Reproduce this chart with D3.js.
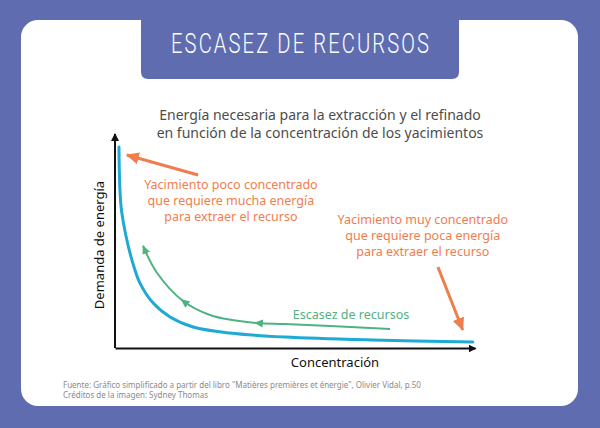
<!DOCTYPE html>
<html>
<head>
<meta charset="utf-8">
<script src="https://cdn.jsdelivr.net/npm/d3@7"></script>
<style>
	html, body { margin: 0; padding: 0; background: #5f6db0; }
	svg { display: block; }
</style>
</head>
<body>
<div id="chart"></div>
<script>
// curve of energy demand against ore concentration
const concentration = [1.1, 1.7, 3.3, 4.7, 6.9, 10.6, 15.3, 21.7, 31.9, 47.2, 71.7, 99.4];
const energyDemand = [95.7, 67.1, 51.4, 41.9, 31.0, 21.4, 14.8, 10.0, 7.1, 5.2, 3.8, 2.9];

// green "escasez" path, drawn from right to left
const scarcityConcentration = [76.4, 59.7, 47.2, 39.4, 32.5, 26.4, 18.9, 11.7, 7.8];
const scarcityDemand = [9.0, 10.5, 11.4, 11.9, 13.3, 15.7, 22.4, 35.7, 48.6];
const scarcityArrowAt = [3, 6];

// orange pointer arrows: [tailX, tailY, headX, headY] in data units
const pointerArrows = [
	[23.1, 82.4, 3.3, 91.9],
	[89.7, 38.6, 96.6, 8.6]
];

const pointerLabels = [
	["Yacimiento poco concentrado", "que requiere mucha energía", "para extraer el recurso"],
	["Yacimiento muy concentrado", "que requiere poca energía", "para extraer el recurso"]
];
const pointerLabelAnchors = [[32.2, 75.7], [85.5, 59]];

const title = "ESCASEZ DE RECURSOS";
const subtitle = [
	"Energía necesaria para la extracción y el refinado",
	"en función de la concentración de los yacimientos"
];
const xLabel = "Concentración";
const yLabel = "Demanda de energía";
const scarcityLabel = "Escasez de recursos";
const footer = [
	"Fuente: Gráfico simplificado a partir del libro \"Matières premières et énergie\", Olivier Vidal, p.50",
	"Créditos de la imagen: Sydney Thomas"
];

const width = 600;
const height = 428;
const BG = "#5f6db0";
const BLUE = "#1eaad2";
const GREEN = "#4fb281";
const ORANGE = "#ef7d4e";
const FONT = "'Noto Sans', 'Open Sans', sans-serif";

const svg = d3
	.select("#chart")
	.append("svg")
	.attr("width", width)
	.attr("height", height)
	.attr("viewBox", `0 0 ${width} ${height}`);

svg.append("rect").attr("width", width).attr("height", height).attr("fill", BG);

//white card
svg
	.append("rect")
	.attr("x", 21)
	.attr("y", 20)
	.attr("width", 557)
	.attr("height", 386)
	.attr("rx", 17)
	.attr("fill", "#ffffff");

//title tab, rounded only at the bottom
svg
	.append("path")
	.attr("d", "M141,0 H459 V72 Q459,79 452,79 H148 Q141,79 141,72 Z")
	.attr("fill", BG);

//condensed look: squeeze horizontally, then spread letters
const titleScale = 0.72;
svg
	.append("text")
	.attr("transform", `translate(300, 53) scale(${titleScale}, 1)`)
	.attr("text-anchor", "middle")
	.attr("fill", "#ffffff")
	.attr("font-family", "Roboto, sans-serif")
	.attr("font-weight", 300)
	.attr("font-size", 28)
	.attr("textLength", 258 / titleScale)
	.attr("lengthAdjust", "spacing")
	.text(title);

svg
	.append("g")
	.selectAll("text")
	.data(subtitle)
	.join("text")
	.attr("x", 320)
	.attr("y", (d, i) => 120 + i * 18)
	.attr("text-anchor", "middle")
	.attr("fill", "#4d4d4d")
	.attr("font-family", FONT)
	.attr("font-size", 14)
	.text(d => d);

const x = d3.scaleLinear().domain([0, 100]).range([115, 475]);
const y = d3.scaleLinear().domain([0, 100]).range([348, 138]);

const defs = svg.append("defs");

const addMarker = (id, color, w, h) =>
	defs
		.append("marker")
		.attr("id", id)
		.attr("viewBox", `0 0 ${w} ${h}`)
		.attr("refX", w - 1)
		.attr("refY", h / 2)
		.attr("markerUnits", "userSpaceOnUse")
		.attr("markerWidth", w)
		.attr("markerHeight", h)
		.attr("orient", "auto")
		.append("path")
		.attr("d", `M0,0 L${w},${h / 2} L0,${h} Z`)
		.attr("fill", color);

addMarker("axis-arrow", "#111111", 8, 8);
addMarker("green-arrow", GREEN, 9, 8);
addMarker("orange-arrow", ORANGE, 13, 12);

//axes without ticks, arrow at the end
svg
	.append("g")
	.attr("transform", `translate(0, ${y(0)})`)
	.call(d3.axisBottom(x).ticks(0).tickSize(0).tickSizeOuter(0))
	.select(".domain")
	.attr("stroke", "#111111")
	.attr("stroke-width", 2)
	.attr("marker-end", "url(#axis-arrow)");

svg
	.append("g")
	.attr("transform", `translate(${x(0)}, 0)`)
	.call(d3.axisLeft(y).ticks(0).tickSize(0).tickSizeOuter(0))
	.select(".domain")
	.attr("stroke", "#111111")
	.attr("stroke-width", 2)
	.attr("d", `M0,${y(0)}V134`)
	.attr("marker-end", "url(#axis-arrow)");

svg
	.append("text")
	.attr("x", 335)
	.attr("y", 367)
	.attr("text-anchor", "middle")
	.attr("fill", "#111111")
	.attr("font-family", FONT)
	.attr("font-size", 13)
	.text(xLabel);

svg
	.append("text")
	.attr("transform", `translate(104, 245) rotate(-90)`)
	.attr("text-anchor", "middle")
	.attr("fill", "#111111")
	.attr("font-family", FONT)
	.attr("font-size", 13)
	.text(yLabel);

const line = d3.line().curve(d3.curveCatmullRom.alpha(0.5));

//main curve
svg
	.append("path")
	.attr("d", line(concentration.map((c, i) => [x(c), y(energyDemand[i])])))
	.attr("fill", "none")
	.attr("stroke", BLUE)
	.attr("stroke-width", 3)
	.attr("stroke-linecap", "round");

//scarcity path
const scarcityPts = scarcityConcentration.map((c, i) => [x(c), y(scarcityDemand[i])]);

svg
	.append("path")
	.attr("d", line(scarcityPts))
	.attr("fill", "none")
	.attr("stroke", GREEN)
	.attr("stroke-width", 2)
	.attr("marker-end", "url(#green-arrow)");

svg
	.append("g")
	.selectAll("path")
	.data(scarcityArrowAt)
	.join("path")
	.attr("d", "M-6,-4 L3,0 L-6,4 Z")
	.attr("fill", GREEN)
	.attr("transform", i => {
		const a = scarcityPts[i - 1];
		const b = scarcityPts[i + 1];
		const angle = (Math.atan2(b[1] - a[1], b[0] - a[0]) * 180) / Math.PI;
		return `translate(${scarcityPts[i][0]}, ${scarcityPts[i][1]}) rotate(${angle})`;
	});

svg
	.append("text")
	.attr("x", 351)
	.attr("y", 319)
	.attr("text-anchor", "middle")
	.attr("fill", GREEN)
	.attr("font-family", FONT)
	.attr("font-size", 12.5)
	.text(scarcityLabel);

//orange pointers
svg
	.append("g")
	.selectAll("line")
	.data(pointerArrows)
	.join("line")
	.attr("x1", d => x(d[0]))
	.attr("y1", d => y(d[1]))
	.attr("x2", d => x(d[2]))
	.attr("y2", d => y(d[3]))
	.attr("stroke", ORANGE)
	.attr("stroke-width", 3)
	.attr("marker-end", "url(#orange-arrow)");

pointerLabels.forEach((lines, k) => {
	svg
		.append("g")
		.selectAll("text")
		.data(lines)
		.join("text")
		.attr("x", x(pointerLabelAnchors[k][0]))
		.attr("y", (d, i) => y(pointerLabelAnchors[k][1]) + i * 16)
		.attr("text-anchor", "middle")
		.attr("fill", ORANGE)
		.attr("font-family", FONT)
		.attr("font-size", 12.5)
		.text(d => d);
});

svg
	.append("g")
	.selectAll("text")
	.data(footer)
	.join("text")
	.attr("x", 63)
	.attr("y", (d, i) => 388 + i * 10)
	.attr("fill", "#8a8a8a")
	.attr("font-family", FONT)
	.attr("font-size", 8)
	.text(d => d);
</script>
</body>
</html>
